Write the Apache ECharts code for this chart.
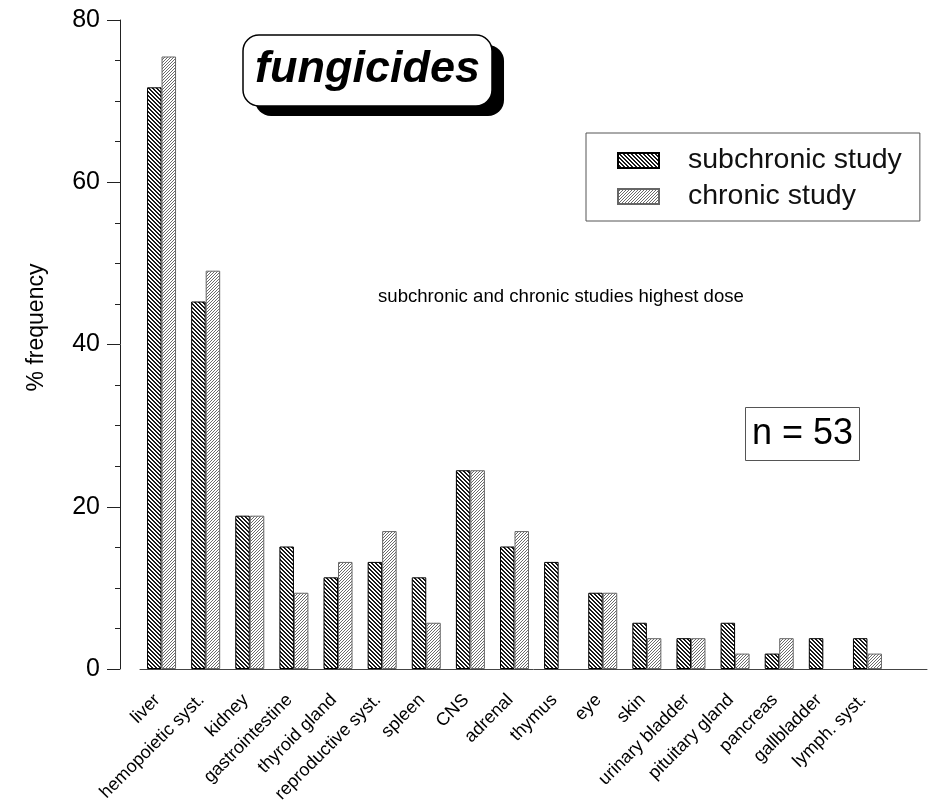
<!DOCTYPE html>
<html>
<head>
<meta charset="utf-8">
<script src="https://cdn.jsdelivr.net/npm/echarts@6/dist/echarts.min.js"></script>
<style>
html,body{margin:0;padding:0;background:#fff;}
#chart{width:929px;height:802px;}
</style>
</head>
<body>
<div id="chart"></div>
<script>
const categories = ['liver','hemopoietic syst.','kidney','gastrointestine','thyroid gland','reproductive syst.','spleen','CNS','adrenal','thymus','eye','skin','urinary bladder','pituitary gland','pancreas','gallbladder','lymph. syst.'];
const subchronic = [71.7,45.3,18.9,15.1,11.3,13.2,11.3,24.5,15.1,13.2,9.4,5.7,3.8,5.7,1.9,3.8,3.8];
const chronic = [75.5,49.1,18.9,9.4,13.2,17.0,5.7,24.5,17.0,null,9.4,3.8,3.8,1.9,3.8,null,1.9];
const yTicks = [0,20,40,60,80];
const titleText = 'fungicides';
const subtitleText = 'subchronic and chronic studies highest dose';
const nText = 'n = 53';
const seriesNames = ['subchronic study','chronic study'];

const FONT = '"Liberation Sans", Arial, Helvetica, sans-serif';

function hatch(dir, color, size, thick) {
  const c = document.createElement('canvas');
  c.width = size; c.height = size;
  const ctx = c.getContext('2d');
  ctx.fillStyle = '#fff';
  ctx.fillRect(0, 0, size, size);
  ctx.fillStyle = color;
  for (let i = 0; i < size; i++) {
    for (let t = 0; t < thick; t++) {
      const x = dir > 0 ? (i + t) % size : (size - 1 - i + t + size) % size;
      ctx.fillRect(x, i, 1, 1);
    }
  }
  return c;
}
const patSub = hatch(1, '#1a1a1a', 4, 2);
const patChr = hatch(-1, '#6a6a6a', 3, 1);

const titleFont = {fontFamily: FONT, fontSize: 45, fontWeight: 'bold', fontStyle: 'italic'};

const chart = echarts.init(document.getElementById('chart'), null, {renderer: 'canvas'});
chart.setOption({
  animation: false,
  backgroundColor: '#fff',
  textStyle: {fontFamily: FONT, color: '#000'},
  title: [
    {
      text: titleText, left: 255, top: 45, padding: [12, 12, 14, 12],
      backgroundColor: '#000', borderRadius: 16,
      textStyle: Object.assign({color: 'rgba(0,0,0,0)'}, titleFont)
    },
    {
      text: titleText, left: 243, top: 35, padding: [12, 12, 14, 12],
      backgroundColor: '#fff', borderColor: '#000', borderWidth: 1.5, borderRadius: 16,
      textStyle: Object.assign({color: '#000'}, titleFont)
    },
    {
      text: subtitleText, left: 378, top: 287, padding: 0,
      textStyle: {fontFamily: FONT, fontSize: 18.6, fontWeight: 'normal', color: '#000'}
    },
    {
      text: nText, left: 745, top: 407, padding: [9, 7, 9, 7],
      borderColor: '#555', borderWidth: 1,
      textStyle: {fontFamily: FONT, fontSize: 36, fontWeight: 'normal', color: '#000'}
    }
  ],
  legend: {
    orient: 'vertical', left: 586, top: 133,
    padding: [13, 18, 10, 31],
    itemWidth: 41, itemHeight: 15, itemGap: 7,
    backgroundColor: '#fff', borderColor: '#555', borderWidth: 1,
    icon: 'rect',
    textStyle: {fontFamily: FONT, fontSize: 28.5, color: '#111', padding: [0, 0, 0, 24]},
    data: seriesNames
  },
  grid: [
    {left: 139.5, right: 39.5, top: 20, bottom: 133, containLabel: false, outerBoundsMode: 'none'},
    {left: 140, right: 2, top: 20, bottom: 133, containLabel: false, outerBoundsMode: 'none'}
  ],
  xAxis: [
    {
      gridIndex: 0, type: 'category', data: categories,
      axisLine: {show: false}, axisTick: {show: false},
      axisLabel: {rotate: 45, interval: 0, margin: 24, fontSize: 18, color: '#000', fontFamily: FONT, padding: [0, 6, 0, 0]}
    },
    {
      gridIndex: 1, type: 'value', min: 0, max: 1,
      axisLine: {show: true, lineStyle: {color: '#444', width: 1}},
      axisTick: {show: false}, axisLabel: {show: false}, splitLine: {show: false}
    }
  ],
  yAxis: [
    {
      gridIndex: 0, type: 'value', min: yTicks[0], max: yTicks[yTicks.length - 1], interval: 20,
      offset: 19.5,
      axisLine: {show: true, lineStyle: {color: '#222', width: 1}},
      axisTick: {show: true, length: 13, lineStyle: {color: '#222'}},
      minorTick: {show: true, splitNumber: 4, length: 5, lineStyle: {color: '#222'}},
      axisLabel: {margin: 20, fontSize: 25, color: '#000', fontFamily: FONT},
      splitLine: {show: false},
      name: '% frequency', nameLocation: 'middle', nameGap: 72,
      nameTextStyle: {fontSize: 23, color: '#000', fontFamily: FONT, padding: [0, 0, 0, 34]}
    },
    {gridIndex: 1, type: 'value', show: false}
  ],
  series: [
    {
      name: seriesNames[0], type: 'bar', xAxisIndex: 0, yAxisIndex: 0,
      data: subchronic, barWidth: 14.5, barGap: '0%',
      itemStyle: {color: {image: patSub, repeat: 'repeat'}, borderColor: '#000', borderWidth: 1}
    },
    {
      name: seriesNames[1], type: 'bar', xAxisIndex: 0, yAxisIndex: 0,
      data: chronic, barWidth: 14.5, barGap: '0%',
      itemStyle: {color: {image: patChr, repeat: 'repeat'}, borderColor: '#666', borderWidth: 1}
    }
  ]
});
</script>
</body>
</html>
